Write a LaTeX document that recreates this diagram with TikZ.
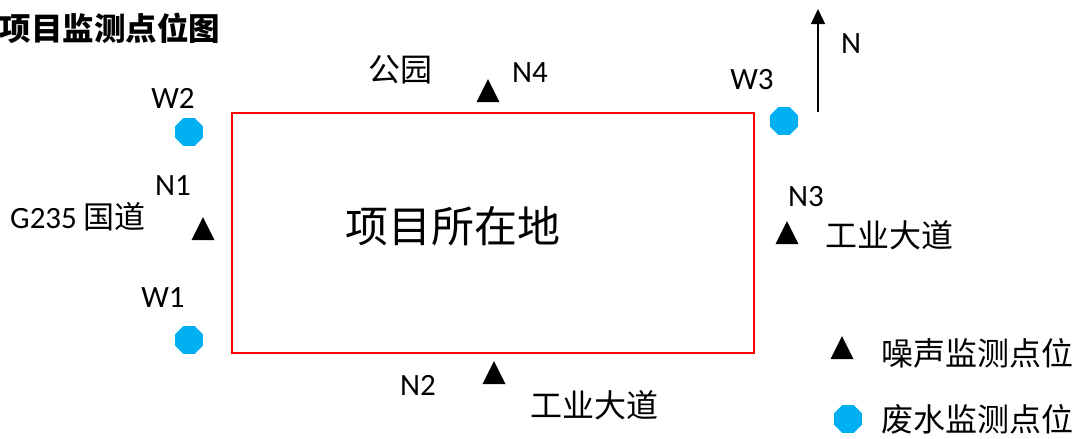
\documentclass[tikz,border=0pt]{standalone}
\usepackage{fontspec}
\setmainfont{Carlito}
\newfontfamily\cjk{Noto Sans CJK SC}
\usetikzlibrary{shapes.geometric,arrows.meta}
\definecolor{wcyan}{HTML}{00B0F0}
\tikzset{
  noise/.style={isosceles triangle, isosceles triangle stretches, shape border rotate=90,
    minimum height=23pt, minimum width=23pt, inner sep=0pt, fill=black, draw=none},
  water/.style={regular polygon, regular polygon sides=8, minimum size=30pt, inner sep=0pt,
    fill=wcyan, draw=none},
  lat/.style={font=\fontsize{31}{32}\selectfont, inner sep=0pt},
  zh/.style={font=\fontsize{32}{34}\selectfont\cjk, inner sep=0pt},
}
\begin{document}
\begin{tikzpicture}[x=1pt,y=-1pt]
\useasboundingbox (0,0) rectangle (1082,439);
\node[font=\fontsize{31.5}{33}\selectfont\cjk\bfseries, inner sep=0pt] (title) at (110,28) {项目监测点位图};
\node[draw=red, line width=1.3pt, minimum width=522pt, minimum height=240pt, inner sep=0pt] (site) at (493,233) {};
\node[font=\fontsize{43}{45}\selectfont\cjk, inner sep=0pt] (sitelabel) at (453,226) {项目所在地};
% markers
\node[noise] (n4) at (488,95) {};
\node[noise] (n1) at (203,233) {};
\node[noise] (n3) at (787,237) {};
\node[noise] (n2) at (494,377) {};
\node[water] (w2) at (189,132) {};
\node[water] (w1) at (189,340) {};
\node[water] (w3) at (784,121) {};
% labels
\node[lat] (lw2) at (173,98) {W2};
\node[lat] (ln1) at (173,186) {N1};
\node[lat, anchor=west] (lg) at (10,217) {G235 \cjk 国道};
\node[lat] (lw1) at (163,298) {W1};
\node[lat] (ln4) at (530,73) {N4};
\node[zh] (lpark) at (400,70) {公园};
\node[lat] (lw3) at (752,80) {W3};
\node[lat] (ln3) at (806,197) {N3};
\node[zh, anchor=west] (lroad1) at (825,235) {工业大道};
\node[lat] (ln2) at (418,385) {N2};
\node[zh] (lroad2) at (594,405) {工业大道};
% north arrow
\coordinate (ns) at (818,112);
\coordinate (ne) at (818,9);
\draw[line width=1.5pt, -{Triangle[length=15pt,width=14pt]}] (ns) -- (ne);
\node[lat] (lnorth) at (851,44) {N};
% legend
\node[noise] (legn) at (842,352) {};
\node[water] (legw) at (848,419) {};
\node[zh, anchor=west] (legnt) at (881,353) {噪声监测点位};
\node[zh, anchor=west] (legwt) at (881,419) {废水监测点位};
\end{tikzpicture}
\end{document}
